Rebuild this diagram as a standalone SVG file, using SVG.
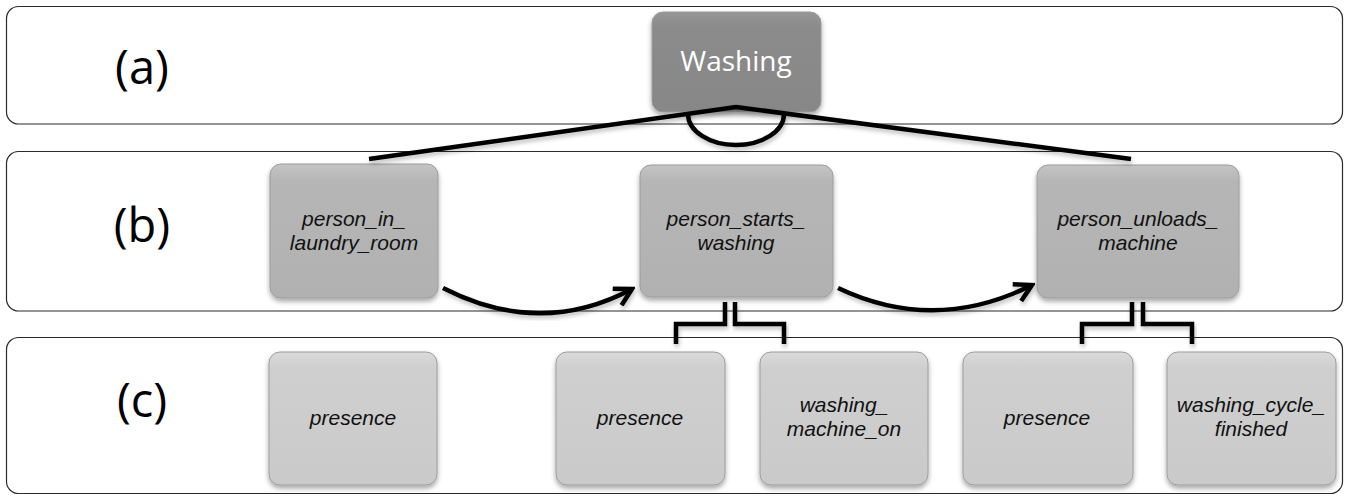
<svg xmlns="http://www.w3.org/2000/svg" width="1349" height="496" viewBox="0 0 1349 496">
<defs>
<style>
.band{fill:#fff;stroke:#2b2b2b;stroke-width:1.2}
.lbl{font-family:"Open Sans","Liberation Sans",sans-serif;font-size:47px;fill:#000;text-anchor:middle}
.nb{stroke:#9c9c9c;stroke-width:1;filter:url(#sh)}
.t{font-family:"Liberation Sans",Arial,sans-serif;font-style:italic;font-size:21px;fill:#111;text-anchor:middle}
.tw{font-family:"Open Sans","Liberation Sans",sans-serif;font-size:28px;fill:#fff;text-anchor:middle}
.c{fill:none;stroke:#000;stroke-width:4.5;stroke-linejoin:miter;filter:url(#shl)}
</style>
<linearGradient id="gA" x1="0" y1="0" x2="0" y2="1"><stop offset="0" stop-color="#969696"/><stop offset="0.15" stop-color="#8b8b8b"/><stop offset="1" stop-color="#878787"/></linearGradient>
<linearGradient id="gB" x1="0" y1="0" x2="0" y2="1"><stop offset="0" stop-color="#c4c4c4"/><stop offset="0.12" stop-color="#b6b6b6"/><stop offset="1" stop-color="#b1b1b1"/></linearGradient>
<linearGradient id="gC" x1="0" y1="0" x2="0" y2="1"><stop offset="0" stop-color="#dadada"/><stop offset="0.12" stop-color="#cfcfcf"/><stop offset="1" stop-color="#cacaca"/></linearGradient>
<filter id="sh" x="-10%" y="-10%" width="120%" height="125%"><feDropShadow dx="0" dy="3" stdDeviation="2.5" flood-color="#000" flood-opacity="0.35"/></filter>
<filter id="shl" x="-10%" y="-20%" width="120%" height="150%"><feDropShadow dx="1" dy="3" stdDeviation="2" flood-color="#000" flood-opacity="0.25"/></filter>
<marker id="ah" viewBox="0 0 12 12" refX="10" refY="6" markerWidth="5" markerHeight="5" orient="auto" markerUnits="strokeWidth"><path d="M1,1 L10,6 L1,11" fill="none" stroke="#000" stroke-width="2.4"/></marker>
</defs>
<g id="bands">
<rect class="band" x="6.5" y="6.5" width="1336" height="117.5" rx="12"/>
<rect class="band" x="6.5" y="151.5" width="1336" height="159.5" rx="12"/>
<rect class="band" x="6.5" y="337.5" width="1336" height="156" rx="12"/>
<text class="lbl" x="142" y="84">(a)</text>
<text class="lbl" x="142" y="242">(b)</text>
<text class="lbl" x="142" y="417">(c)</text>
</g>
<g id="n-washing"><rect class="nb" x="652" y="12" width="169" height="100" rx="11" fill="url(#gA)" stroke="#6e6e6e"/><text class="tw" x="736" y="71">Washing</text></g>
<g id="n-person-in-laundry-room"><rect class="nb" x="270" y="164" width="168" height="134" rx="11" fill="url(#gB)"/><text class="t" x="354" y="226">person_in_</text><text class="t" x="354" y="250">laundry_room</text></g>
<g id="n-person-starts-washing"><rect class="nb" x="640" y="165" width="193" height="132" rx="11" fill="url(#gB)"/><text class="t" x="736" y="226">person_starts_</text><text class="t" x="736" y="250">washing</text></g>
<g id="n-person-unloads-machine"><rect class="nb" x="1037" y="165" width="202" height="133" rx="11" fill="url(#gB)"/><text class="t" x="1138" y="226">person_unloads_</text><text class="t" x="1138" y="250">machine</text></g>
<g id="n-presence-1"><rect class="nb" x="269" y="352" width="168" height="133" rx="11" fill="url(#gC)"/><text class="t" x="353" y="425">presence</text></g>
<g id="n-presence-2"><rect class="nb" x="556" y="352" width="169" height="133" rx="11" fill="url(#gC)"/><text class="t" x="640" y="425">presence</text></g>
<g id="n-washing-machine-on"><rect class="nb" x="760" y="352" width="168" height="133" rx="11" fill="url(#gC)"/><text class="t" x="844" y="412">washing_</text><text class="t" x="844" y="436">machine_on</text></g>
<g id="n-presence-3"><rect class="nb" x="963" y="352" width="170" height="133" rx="11" fill="url(#gC)"/><text class="t" x="1047" y="425">presence</text></g>
<g id="n-washing-cycle-finished"><rect class="nb" x="1167" y="352" width="169" height="133" rx="11" fill="url(#gC)"/><text class="t" x="1251" y="412">washing_cycle_</text><text class="t" x="1251" y="436">finished</text></g>
<g id="connectors">
<path class="c" d="M369,159 L736,107 L1131,159"/>
<path class="c" d="M736,107 V155"/>
<path class="c" d="M688,114 A48 31 0 0 0 784,114"/>
<path class="c" d="M353,302 V344"/>
<path class="c" d="M725,302 V324 H676 V344"/>
<path class="c" d="M735,302 V324 H784 V344"/>
<path class="c" d="M1132,302 V324 H1082 V344"/>
<path class="c" d="M1143,302 V324 H1192 V344"/>
<path class="c" d="M443,288 Q540,338 632,289" marker-end="url(#ah)"/>
<path class="c" d="M838,288 Q935,334 1032,285" marker-end="url(#ah)"/>
</g>
</svg>
